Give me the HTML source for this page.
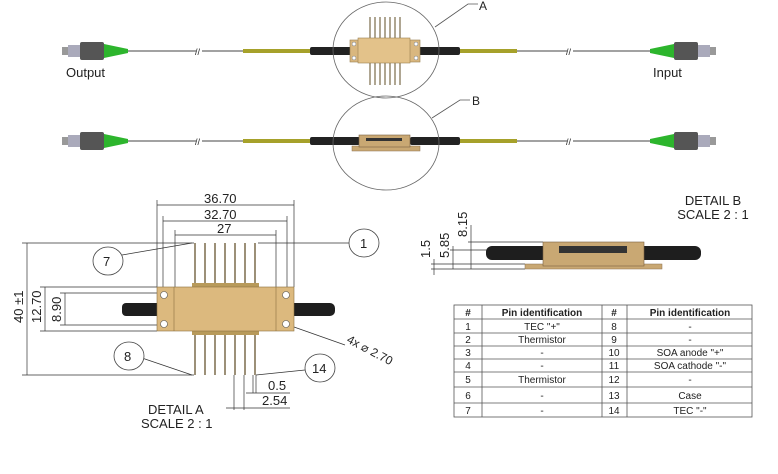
<!DOCTYPE html>
<html><head><meta charset="utf-8"><style>
html,body{margin:0;padding:0;background:#fff;}
svg{display:block;}
text{font-family:"Liberation Sans",sans-serif;fill:#222;}
</style></head><body>
<svg width="778" height="474" viewBox="0 0 778 474" xmlns="http://www.w3.org/2000/svg">
<defs>
<g id="connL">
  <rect x="62" y="-4" width="8" height="8" fill="#999"/>
  <rect x="68" y="-6" width="13" height="12" fill="#aab" />
  <rect x="80" y="-9" width="24" height="18" rx="2" fill="#555"/>
  <polygon points="104,-7 128,-2 128,2 104,7" fill="#2db52d"/>
</g>
<g id="fiberRow">
  <use href="#connL"/>
  <g transform="translate(778,0) scale(-1,1)"><use href="#connL"/></g>
  <line x1="128" y1="0" x2="650" y2="0" stroke="#444" stroke-width="1"/>
  <rect x="196" y="-3" width="6" height="6" fill="#fff"/>
  <text x="195" y="4" font-size="9" fill="#888">//</text>
  <rect x="567" y="-3" width="6" height="6" fill="#fff"/>
  <text x="566" y="4" font-size="9" fill="#888">//</text>
  <rect x="243" y="-2" width="67" height="4" fill="#a6a12a"/>
  <rect x="459" y="-2" width="58" height="4" fill="#a6a12a"/>
  <rect x="310" y="-4" width="50" height="8" rx="2" fill="#222"/>
  <rect x="410" y="-4" width="50" height="8" rx="2" fill="#222"/>
</g>
</defs>
<!-- row 1 -->
<g transform="translate(0,51)"><use href="#fiberRow"/></g>
<g stroke="#7a6a4a" stroke-width="1.2">
  <line x1="370" y1="17" x2="370" y2="38"/><line x1="375" y1="17" x2="375" y2="38"/><line x1="380" y1="17" x2="380" y2="38"/><line x1="385" y1="17" x2="385" y2="38"/><line x1="390" y1="17" x2="390" y2="38"/><line x1="395" y1="17" x2="395" y2="38"/><line x1="400" y1="17" x2="400" y2="38"/>
  <line x1="370" y1="63" x2="370" y2="85"/><line x1="375" y1="63" x2="375" y2="85"/><line x1="380" y1="63" x2="380" y2="85"/><line x1="385" y1="63" x2="385" y2="85"/><line x1="390" y1="63" x2="390" y2="85"/><line x1="395" y1="63" x2="395" y2="85"/><line x1="400" y1="63" x2="400" y2="85"/>
</g>
<rect x="350" y="40" width="70" height="22" fill="#d9b77f" stroke="#9a8050" stroke-width="0.6"/>
<rect x="358" y="38" width="52" height="25" fill="#e3c28a" stroke="#9a8050" stroke-width="0.6"/>
<circle cx="354" cy="44" r="2" fill="#fff" stroke="#777" stroke-width=".5"/><circle cx="354" cy="58" r="2" fill="#fff" stroke="#777" stroke-width=".5"/>
<circle cx="416" cy="44" r="2" fill="#fff" stroke="#777" stroke-width=".5"/><circle cx="416" cy="58" r="2" fill="#fff" stroke="#777" stroke-width=".5"/>
<ellipse cx="386" cy="50" rx="53" ry="48" fill="none" stroke="#666" stroke-width="0.8"/>
<polyline points="435,27 468,4 478,4" fill="none" stroke="#555" stroke-width="0.8"/>
<text x="479" y="10" font-size="12">A</text>
<text x="66" y="77" font-size="13">Output</text>
<text x="653" y="77" font-size="13">Input</text>
<!-- row 2 -->
<g transform="translate(0,141)"><use href="#fiberRow"/></g>
<rect x="352" y="146" width="68" height="5" fill="#c9a873" stroke="#8a7050" stroke-width="0.5"/>
<rect x="359" y="135" width="51" height="12" fill="#c9a873" stroke="#7a6040" stroke-width="0.6"/>
<rect x="366" y="138" width="36" height="3" fill="#333"/>
<ellipse cx="386" cy="143" rx="53" ry="47" fill="none" stroke="#666" stroke-width="0.8"/>
<polyline points="432,118 460,100 470,100" fill="none" stroke="#555" stroke-width="0.8"/>
<text x="472" y="105" font-size="12">B</text>

<!-- DETAIL A -->
<g stroke="#333" stroke-width="0.7" fill="none">
  <line x1="157" y1="205" x2="294" y2="205"/><line x1="157" y1="200" x2="157" y2="287"/><line x1="294" y1="200" x2="294" y2="287"/>
  <line x1="163" y1="221" x2="287" y2="221"/><line x1="163" y1="216" x2="163" y2="290"/><line x1="287" y1="216" x2="287" y2="290"/>
  <line x1="175" y1="235" x2="276" y2="235"/><line x1="175" y1="230" x2="175" y2="287"/><line x1="276" y1="230" x2="276" y2="287"/>
  <line x1="27" y1="243" x2="27" y2="375"/><line x1="22" y1="243" x2="194" y2="243"/><line x1="22" y1="375" x2="194" y2="375"/>
  <line x1="45" y1="287" x2="45" y2="331"/><line x1="40" y1="287" x2="157" y2="287"/><line x1="40" y1="331" x2="157" y2="331"/>
  <line x1="65" y1="293" x2="65" y2="325"/><line x1="60" y1="293" x2="163" y2="293"/><line x1="60" y1="325" x2="163" y2="325"/>
  <line x1="258" y1="243" x2="349" y2="243"/>
  <line x1="122" y1="255" x2="192" y2="243"/>
  <line x1="142" y1="358" x2="192" y2="375"/>
  <line x1="256" y1="375" x2="305" y2="370"/>
  <line x1="294" y1="327" x2="345" y2="345"/>
  <line x1="234" y1="375" x2="234" y2="410"/><line x1="244" y1="375" x2="244" y2="410"/><line x1="253" y1="375" x2="253" y2="393"/><line x1="256" y1="375" x2="256" y2="393"/>
  <line x1="246" y1="393" x2="290" y2="393"/><line x1="226" y1="408" x2="290" y2="408"/>
  <line x1="434" y1="259" x2="434" y2="275"/><line x1="453" y1="246" x2="453" y2="269"/><line x1="471" y1="225" x2="471" y2="269"/>
  <line x1="431" y1="264" x2="525" y2="264"/><line x1="431" y1="269" x2="525" y2="269"/><line x1="450" y1="250" x2="545" y2="250"/><line x1="468" y1="242" x2="543" y2="242"/>
</g>
<g stroke="#7a6a4a" stroke-width="1.5">
  <line x1="195" y1="243" x2="195" y2="287"/><line x1="205" y1="243" x2="205" y2="287"/><line x1="215" y1="243" x2="215" y2="287"/><line x1="225" y1="243" x2="225" y2="287"/><line x1="235" y1="243" x2="235" y2="287"/><line x1="245" y1="243" x2="245" y2="287"/><line x1="255" y1="243" x2="255" y2="287"/>
  <line x1="195" y1="331" x2="195" y2="375"/><line x1="205" y1="331" x2="205" y2="375"/><line x1="215" y1="331" x2="215" y2="375"/><line x1="225" y1="331" x2="225" y2="375"/><line x1="235" y1="331" x2="235" y2="375"/><line x1="245" y1="331" x2="245" y2="375"/><line x1="255" y1="331" x2="255" y2="375"/>
</g>
<rect x="192" y="283" width="67" height="5" fill="#b89a5a"/>
<rect x="192" y="330" width="67" height="5" fill="#b89a5a"/>
<rect x="122" y="303" width="52" height="13" rx="4" fill="#1e1e1e"/>
<rect x="276" y="303" width="59" height="13" rx="5" fill="#1e1e1e"/>
<rect x="157" y="287" width="137" height="44" fill="#dcb97e" stroke="#8a7040" stroke-width="0.6"/>
<line x1="174" y1="287" x2="174" y2="331" stroke="#8a7040" stroke-width="0.6"/>
<line x1="276" y1="287" x2="276" y2="331" stroke="#8a7040" stroke-width="0.6"/>
<g fill="#fff" stroke="#555" stroke-width="0.6">
<circle cx="164" cy="295" r="3.5"/><circle cx="164" cy="324" r="3.5"/><circle cx="286" cy="295" r="3.5"/><circle cx="286" cy="324" r="3.5"/>
</g>
<g fill="#fff" stroke="#444" stroke-width="0.8">
<ellipse cx="108" cy="261" rx="15" ry="14"/><ellipse cx="364" cy="243" rx="15" ry="14"/><ellipse cx="129" cy="356" rx="15" ry="14"/><ellipse cx="320" cy="368" rx="15" ry="14"/>
</g>
<g font-size="13">
<text x="103" y="266">7</text><text x="360" y="248">1</text><text x="124" y="361">8</text><text x="312" y="373">14</text>
<text x="204" y="203">36.70</text><text x="204" y="219">32.70</text><text x="217" y="233">27</text>
<text x="268" y="390">0.5</text><text x="262" y="405">2.54</text>
<text x="148" y="414">DETAIL A</text><text x="141" y="428">SCALE 2 : 1</text>
<text x="713" y="205" text-anchor="middle">DETAIL B</text><text x="713" y="219" text-anchor="middle">SCALE 2 : 1</text>
</g>
<g font-size="13">
<text transform="translate(23,323) rotate(-90)">40 ±1</text>
<text transform="translate(41,323) rotate(-90)">12.70</text>
<text transform="translate(61,322) rotate(-90)">8.90</text>
<text transform="translate(430,258) rotate(-90)">1.5</text>
<text transform="translate(449,258) rotate(-90)">5.85</text>
<text transform="translate(467,237) rotate(-90)">8.15</text>
<text transform="translate(346,342) rotate(28)" font-size="12">4x ⌀ 2.70</text>
</g>
<!-- DETAIL B -->
<rect x="486" y="246" width="215" height="14" rx="6" fill="#1e1e1e"/>
<rect x="525" y="264" width="137" height="5" fill="#c9a873" stroke="#8a7050" stroke-width="0.5"/>
<rect x="543" y="242" width="101" height="24" fill="#c9a873" stroke="#7a6040" stroke-width="0.6"/>
<rect x="559" y="246" width="68" height="7" fill="#333"/>

<!-- Table -->
<g stroke="#555" stroke-width="0.8" fill="none">
<rect x="454" y="305" width="298" height="112"/>
<line x1="482" y1="305" x2="482" y2="417"/><line x1="602" y1="305" x2="602" y2="417"/><line x1="627" y1="305" x2="627" y2="417"/>
<line x1="454" y1="319" x2="752" y2="319"/><line x1="454" y1="333" x2="752" y2="333"/><line x1="454" y1="346" x2="752" y2="346"/><line x1="454" y1="359" x2="752" y2="359"/><line x1="454" y1="372" x2="752" y2="372"/><line x1="454" y1="387" x2="752" y2="387"/><line x1="454" y1="403" x2="752" y2="403"/>
</g>
<g font-size="10" text-anchor="middle">
<text x="468" y="316" font-weight="bold">#</text><text x="542" y="316" font-weight="bold">Pin identification</text><text x="614" y="316" font-weight="bold">#</text><text x="690" y="316" font-weight="bold">Pin identification</text>
<text x="468" y="330">1</text><text x="542" y="330">TEC "+"</text><text x="614" y="330">8</text><text x="690" y="330">-</text>
<text x="468" y="343">2</text><text x="542" y="343">Thermistor</text><text x="614" y="343">9</text><text x="690" y="343">-</text>
<text x="468" y="356">3</text><text x="542" y="356">-</text><text x="614" y="356">10</text><text x="690" y="356">SOA anode "+"</text>
<text x="468" y="369">4</text><text x="542" y="369">-</text><text x="614" y="369">11</text><text x="690" y="369">SOA cathode "-"</text>
<text x="468" y="383">5</text><text x="542" y="383">Thermistor</text><text x="614" y="383">12</text><text x="690" y="383">-</text>
<text x="468" y="399">6</text><text x="542" y="399">-</text><text x="614" y="399">13</text><text x="690" y="399">Case</text>
<text x="468" y="414">7</text><text x="542" y="414">-</text><text x="614" y="414">14</text><text x="690" y="414">TEC "-"</text>
</g>
</svg>
</body></html>
